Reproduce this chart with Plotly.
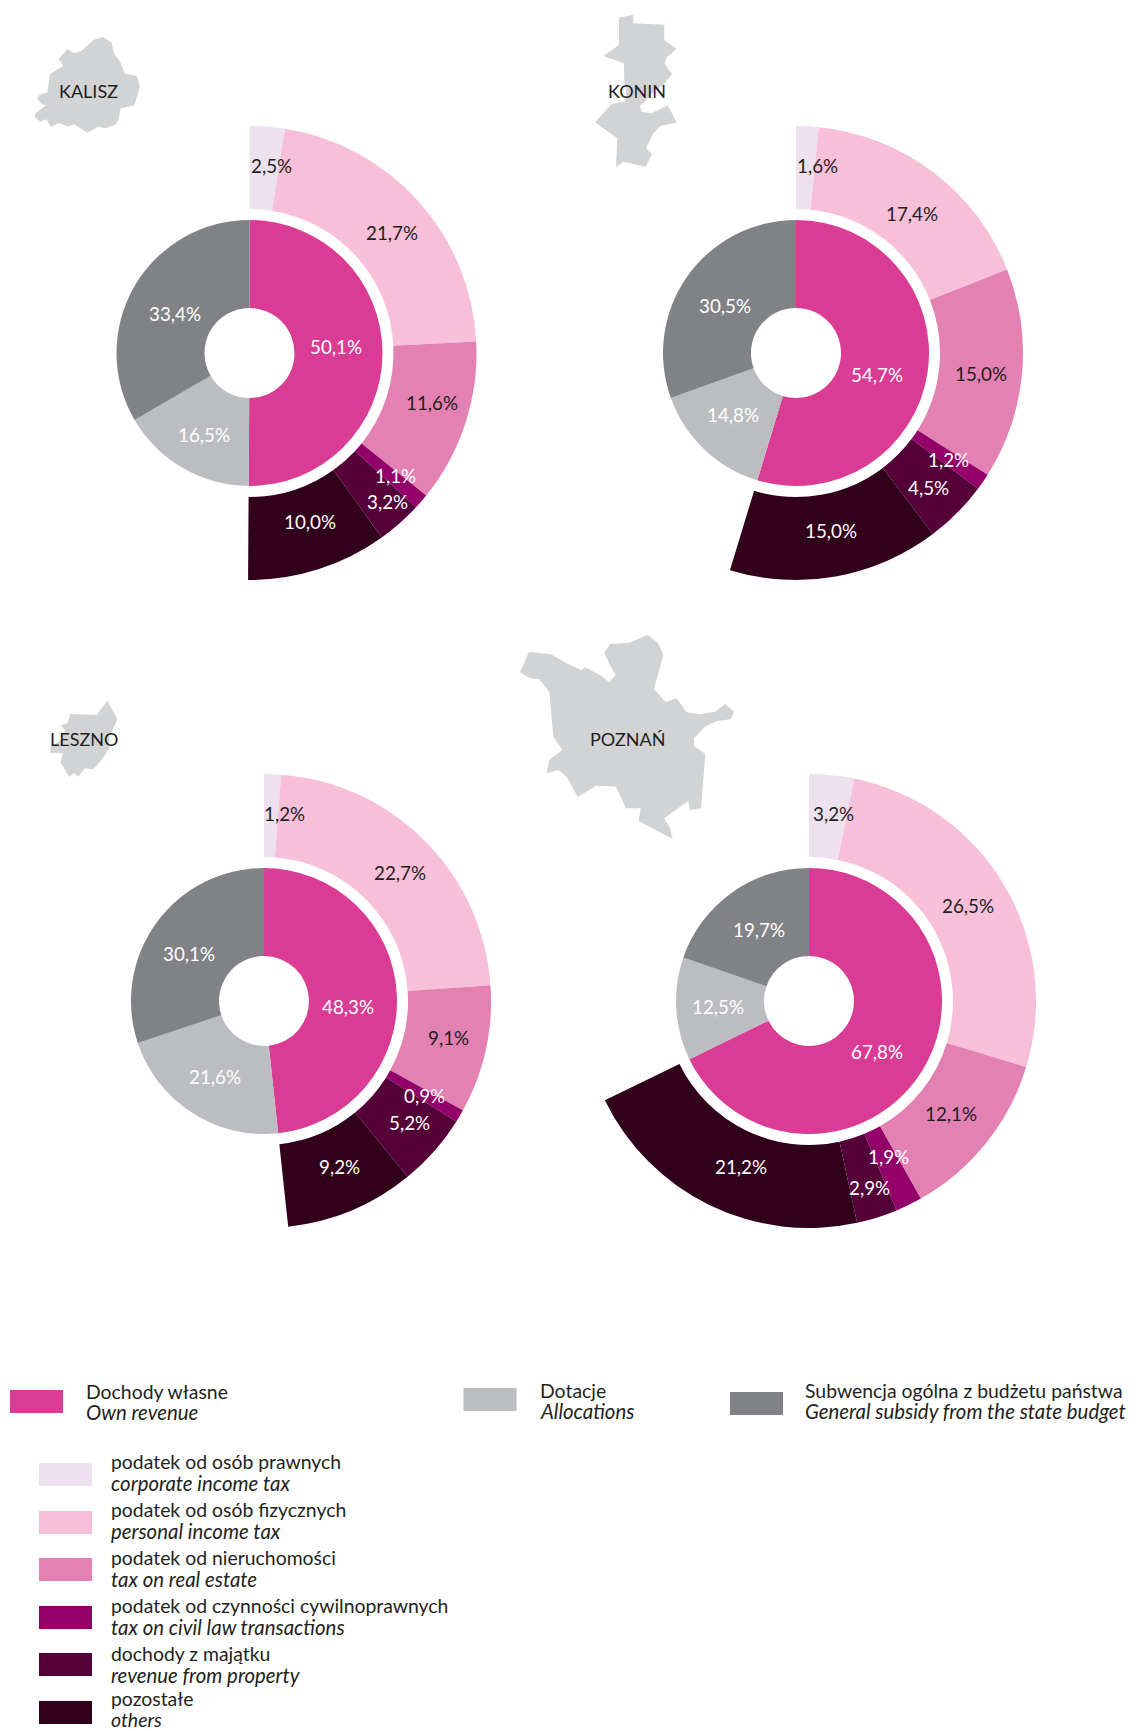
import plotly.graph_objects as go

W, H = 1139, 1731
SCALE = W / 1032

CITIES = ["KALISZ", "KONIN", "LESZNO", "POZNAŃ"]

# inner ring: own revenue, allocations, general subsidy
KALISZ_INNER = [50.1, 16.5, 33.4]
KONIN_INNER = [54.7, 14.8, 30.5]
LESZNO_INNER = [48.3, 21.6, 30.1]
POZNAN_INNER = [67.8, 12.5, 19.7]

# outer ring: corporate, personal, real estate, civil law, property, others
KALISZ_OUTER = [2.5, 21.7, 11.6, 1.1, 3.2, 10.0]
KONIN_OUTER = [1.6, 17.4, 15.0, 1.2, 4.5, 15.0]
LESZNO_OUTER = [1.2, 22.7, 9.1, 0.9, 5.2, 9.2]
POZNAN_OUTER = [3.2, 26.5, 12.1, 1.9, 2.9, 21.2]

INNER = [KALISZ_INNER, KONIN_INNER, LESZNO_INNER, POZNAN_INNER]
OUTER = [KALISZ_OUTER, KONIN_OUTER, LESZNO_OUTER, POZNAN_OUTER]

INNER_COLORS = ["#DA3B94", "#BCBDC0", "#808285"]
OUTER_COLORS = ["#EDE1EF", "#F8BFD9", "#E481B3", "#93006A", "#56003A", "#31001B"]
INK = "#231F20"
CITY_FILL = "#D1D3D4"
FONT = "Lato"

CENTERS = [(249.5, 353), (796, 353), (264, 1001), (809, 1001)]
R_IN, R_HOLE, R_OUT, R_GAP = 133, 45, 227, 144

# label centres in reference image units (outer six, then inner three)
LABEL_POS = [
    [(246, 150), (355, 211), (391, 365), (358, 431), (351, 455), (281, 473), (304, 314), (185, 394), (159, 284)],
    [(741, 150), (826, 194), (889, 339), (859, 417), (841, 442), (753, 481), (795, 340), (664, 376), (657, 277)],
    [(258, 737), (362, 791), (406, 940), (385, 993), (371, 1017), (308, 1057), (315, 912), (195, 976), (171, 864)],
    [(755, 737), (877, 821), (862, 1009), (805, 1048), (788, 1076), (671, 1057), (795, 953), (651, 912), (688, 842)],
]
CITY_LABEL_POS = [(80, 83), (577, 83), (76, 670), (569, 670)]

# silhouettes: (origin x, origin y, points at 3x)
SHAPES = [
    (0, 0, [(310,111),(335,128),(342,160),(362,188),(375,222),(410,228),(420,260),(403,316),(362,325),(355,360),(345,375),(318,384),(293,381),(262,398),(222,372),(205,380),(178,369),(153,380),(138,358),(120,365),(104,350),(106,340),(138,316),(125,312),(111,296),(119,284),(142,277),(150,222),(190,197),(176,177),(202,147),(222,160),(245,152),(280,120)]),
    (570, 0, [(147,53),(190,44),(190,70),(283,74),(283,120),(320,147),(290,172),(284,192),(306,222),(280,255),(250,275),(228,300),(210,318),(215,335),(243,340),(270,328),(293,316),(320,367),(272,378),(250,400),(228,445),(246,462),(227,500),(160,485),(138,502),(142,415),(75,367),(125,312),(165,305),(170,280),(163,250),(162,190),(100,168),(147,135)]),
    (20, 680, [(262,62),(292,117),(268,175),(268,205),(245,240),(220,268),(195,265),(175,290),(162,278),(148,291),(122,248),(128,220),(90,218),(92,200),(125,180),(135,150),(122,135),(143,130),(150,102),(230,105)]),
    (500, 620, [(87,96),(152,103),(210,135),(245,150),(255,142),(300,165),(328,187),(347,165),(330,135),(313,98),(330,72),(388,68),(443,44),(475,70),(490,105),(462,207),(497,246),(530,235),(560,277),(600,283),(645,275),(675,252),(702,275),(692,298),(650,303),(615,320),(582,355),(582,378),(616,402),(603,565),(570,570),(565,543),(492,595),(510,625),(518,657),(416,603),(422,565),(378,565),(348,500),(290,497),(233,530),(200,470),(175,450),(140,460),(147,420),(187,390),(160,350),(148,215),(118,178),(90,175),(60,157)]),
]

# legend
TOP_LEGEND = [
    ("Dochody własne", "Own revenue"),
    ("Dotacje", "Allocations"),
    ("Subwencja ogólna z budżetu państwa", "General subsidy from the state budget"),
]
TOP_SWATCH = [(10, 1390), (463.5, 1388), (730, 1392)]
TOP_TEXT = [(84, 1391), (538, 1390), (802.5, 1390)]
TOP_SWATCH_W = 53

ROW_LEGEND = [
    ("podatek od osób prawnych", "corporate income tax"),
    ("podatek od osób fizycznych", "personal income tax"),
    ("podatek od nieruchomości", "tax on real estate"),
    ("podatek od czynności cywilnoprawnych", "tax on civil law transactions"),
    ("dochody z majątku", "revenue from property"),
    ("pozostałe", "others"),
]
ROW_SWATCH_Y = [1463, 1511, 1558, 1606, 1653, 1701]
ROW_TEXT_Y = [1461.7, 1509.7, 1557.7, 1605.7, 1653.7, 1698]
ROW_ITALIC_Y = [1482.7, 1530.7, 1578.7, 1626.7, 1674.7, 1719]
ROW_ITALIC_SIZE = [20.4, 20.4, 20.4, 20.4, 20.4, 19.5]
ROW_TEXT_X = 108.5

LABEL_SIZE = 18.8
CITY_SIZE = 18
LEGEND_SIZE = 19.4
ITALIC_SIZE = 20.4


def px(x):
    return x / W


def py(y):
    return 1 - y / H


def pct(v):
    return f"{v:.1f}".replace(".", ",") + "%"


def text(x, y, s, size, color=INK, anchor="center", italic=False):
    return dict(
        x=px(x), y=py(y), xref="paper", yref="paper", text=f"<i>{s}</i>" if italic else s,
        showarrow=False, xanchor=anchor, yanchor="middle",
        font=dict(family=FONT, size=size, color=color), align="left",
    )


def domain(c, r):
    return dict(x=[px(c[0] - r), px(c[0] + r)], y=[py(c[1] + r), py(c[1] - r)])


fig = go.Figure()
annotations, shapes = [], []

for i, city in enumerate(CITIES):
    c = CENTERS[i]
    rest = 100 - sum(OUTER[i])
    fig.add_trace(go.Pie(
        values=OUTER[i] + [rest], domain=domain(c, R_OUT), hole=R_GAP / R_OUT,
        sort=False, direction="clockwise", rotation=0, textinfo="none", hoverinfo="skip",
        marker=dict(colors=OUTER_COLORS + ["rgba(0,0,0,0)"], line=dict(width=0)), showlegend=False,
    ))
    fig.add_trace(go.Pie(
        values=INNER[i], domain=domain(c, R_IN), hole=R_HOLE / R_IN,
        sort=False, direction="clockwise", rotation=0, textinfo="none", hoverinfo="skip",
        marker=dict(colors=INNER_COLORS, line=dict(width=0)), showlegend=False,
    ))
    vals = OUTER[i] + INNER[i]
    for j, (v, pos) in enumerate(zip(vals, LABEL_POS[i])):
        color = INK if j < 3 else "#FFFFFF"
        annotations.append(text(pos[0] * SCALE, pos[1] * SCALE - 0.3, pct(v), LABEL_SIZE, color))
    lx, ly = CITY_LABEL_POS[i]
    annotations.append(text(lx * SCALE, ly * SCALE - 0.5, city, CITY_SIZE))

    ox, oy, pts = SHAPES[i]
    path = "M" + "L".join(f"{px(ox + a / 3):.5f},{py(oy + b / 3):.5f}" for a, b in pts) + "Z"
    shapes.append(dict(type="path", path=path, xref="paper", yref="paper",
                       fillcolor=CITY_FILL, line=dict(width=0), layer="below"))


def swatch(x, y, w, h, color):
    shapes.append(dict(type="rect", xref="paper", yref="paper", x0=px(x), x1=px(x + w),
                       y0=py(y + h), y1=py(y), fillcolor=color, line=dict(width=0)))


for (a, b), (sx, sy), (tx, ty), col in zip(TOP_LEGEND, TOP_SWATCH, TOP_TEXT, INNER_COLORS):
    swatch(sx, sy, TOP_SWATCH_W, 23, col)
    annotations.append(text(tx, ty, a, LEGEND_SIZE, anchor="left"))
    annotations.append(text(tx, ty + 21, b, ITALIC_SIZE, anchor="left", italic=True))

for (a, b), sy, ty, iy, isz, col in zip(ROW_LEGEND, ROW_SWATCH_Y, ROW_TEXT_Y, ROW_ITALIC_Y, ROW_ITALIC_SIZE, OUTER_COLORS):
    swatch(39, sy, 53, 23, col)
    annotations.append(text(ROW_TEXT_X, ty, a, LEGEND_SIZE, anchor="left"))
    annotations.append(text(ROW_TEXT_X, iy, b, isz, anchor="left", italic=True))

fig.update_layout(
    width=W, height=H, margin=dict(l=0, r=0, t=0, b=0),
    paper_bgcolor="#FFFFFF", plot_bgcolor="#FFFFFF",
    annotations=annotations, shapes=shapes, showlegend=False,
)

fig.write_html("out.html", config={"displayModeBar": False},
               post_script="document.body.style.margin='0';document.body.style.overflow='hidden';")
